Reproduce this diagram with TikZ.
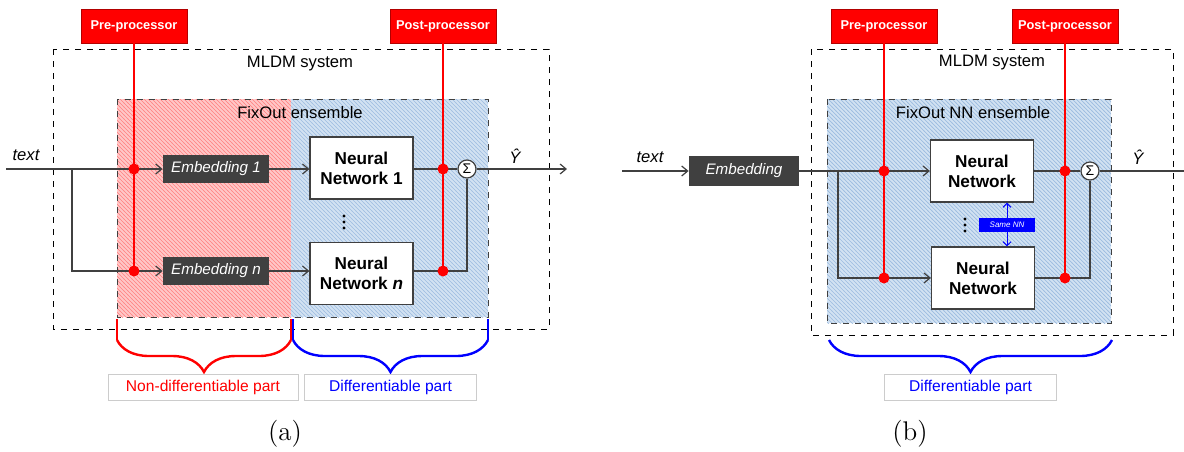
\documentclass[tikz,border=0pt]{standalone}
\usepackage{fontspec}
\setsansfont{Liberation Sans}
\usetikzlibrary{arrows.meta,patterns,decorations.pathreplacing}
\definecolor{linegray}{HTML}{404040}
\definecolor{hatchred}{HTML}{FFB4B4}
\definecolor{hatchblue}{HTML}{D2E2F2}
\definecolor{hatchbluedark}{HTML}{9DBCE0}
% fine diagonal hatching
\pgfdeclarepatternformonly{finehatch}{\pgfqpoint{-0.5pt}{-0.5pt}}{\pgfqpoint{2.5pt}{2.5pt}}{\pgfqpoint{2pt}{2pt}}{
  \pgfsetlinewidth{0.35pt}
  \pgfpathmoveto{\pgfqpoint{-0.1pt}{2.1pt}}
  \pgfpathlineto{\pgfqpoint{2.1pt}{-0.1pt}}
  \pgfusepath{stroke}}
\tikzset{
  wire/.style={draw=linegray, line width=0.6pt},
  flow/.style={wire, -{Straight Barb[length=3pt,width=5pt]}},
  redwire/.style={draw=red, line width=0.8pt},
  tap/.style={circle, fill=red, inner sep=0pt, minimum size=5.5pt},
  procbox/.style={fill=red, draw=red!70!black, line width=0.3pt, text=white, font=\sffamily\bfseries\fontsize{6.4}{7}\selectfont, minimum width=53pt, minimum height=17pt, inner sep=1pt},
  embbox/.style={fill=linegray, text=white, font=\sffamily\itshape\fontsize{7.6}{9}\selectfont, minimum width=53pt, minimum height=14pt, inner sep=1pt},
  nnbox/.style={fill=white, draw=linegray, line width=0.6pt, font=\sffamily\bfseries\fontsize{8.6}{10}\selectfont, align=center, minimum width=51.5pt, minimum height=31pt, inner sep=1pt},
  sumnode/.style={circle, draw=linegray, fill=white, line width=0.6pt, inner sep=0pt, minimum size=9pt, font=\sffamily\fontsize{7}{8}\selectfont},
  sysbox/.style={draw=black, dashed, line width=0.5pt},
  label/.style={font=\sffamily\fontsize{8.3}{10}\selectfont},
  ilabel/.style={font=\sffamily\itshape\fontsize{8.3}{10}\selectfont},
  samebox/.style={fill=blue, text=white, font=\sffamily\itshape\fontsize{4}{5}\selectfont, minimum width=28pt, minimum height=7pt, inner sep=0.5pt},
  partbox/.style={draw=black!20, fill=white, line width=0.5pt, font=\sffamily\fontsize{7.8}{9}\selectfont, minimum width=86pt, minimum height=13pt, inner sep=1pt},
  bracebar/.style={line width=1.2pt, decorate, decoration={brace, mirror, amplitude=16pt, raise=0pt}},
}
\begin{document}
\begin{tikzpicture}[x=0.5pt, y=-0.5pt]
  \useasboundingbox (0,0) rectangle (1184,451);

  % ---- (a) ----
  \draw [sysbox] (53,49) rectangle (549,329);
  \node [label] (sysa) at (300,64) {MLDM system};
  \fill [hatchred!75] (117,99) rectangle (291,317);
  \fill [pattern=finehatch, pattern color=red!50] (117,99) rectangle (291,317);
  \fill [hatchblue] (291,99) rectangle (488,317);
  \fill [pattern=finehatch, pattern color=hatchbluedark] (291,99) rectangle (488,317);
  \draw [dashed, draw=linegray, line width=0.5pt] (117,99) rectangle (488,317);
  \node [label] (ensa) at (300,113) {FixOut ensemble};

  \node [procbox] (prea) at (134,26) {Pre-processor};
  \node [procbox] (posta) at (443,26) {Post-processor};

  \node [embbox] (emba1) at (216,169) {Embedding 1};
  \node [embbox] (emban) at (216,271) {Embedding \textit{n}};
  \node [nnbox] (nna1) at (361.5,168) {Neural\\Network 1};
  \node [nnbox] (nnan) at (361.5,273.5) {Neural\\Network \textit{n}};
  \foreach \y in {216,222,228}
    \fill [black] (344,\y) circle (0.8pt);
  \node [sumnode] (suma) at (467,169) {Σ};

  \coordinate (ina) at (6,169);
  \coordinate (splita) at (72,169);
  \coordinate (downa) at (72,271);
  \coordinate (outa) at (567,169);
  \node [ilabel] (txta) at (26,155) {text};
  \node [ilabel] (yhata) at (515,156) {Ŷ};

  \draw [wire] (ina) -- (splita);
  \draw [flow] (splita) -- (emba1.west);
  \draw [flow] (splita) -- (downa) -- (emban.west);
  \draw [flow] (emba1.east) -- (nna1.west |- emba1.east);
  \draw [flow] (emban.east) -- (nnan.west |- emban.east);
  \draw [wire] (nna1.east |- suma) -- (suma.west);
  \draw [wire] (nnan.east |- emban) -- (suma |- emban) -- (suma.south);
  \draw [flow] (suma.east) -- (outa);

  \draw [redwire] (prea.south) -- (prea.south |- emban);
  \draw [redwire] (posta.south) -- (posta.south |- emban);
  \node [tap] (ta1) at (prea |- emba1) {};
  \node [tap] (tan) at (prea |- emban) {};
  \node [tap] (tb1) at (posta |- suma) {};
  \node [tap] (tbn) at (posta |- emban) {};

  \draw [red, line width=1.2pt] (117,319) -- (117,340);
  \draw [red, line width=1.2pt] (291,319) -- (291,340);
  \draw [red, bracebar] (117,340) -- (291,340);
  \draw [blue, line width=1.2pt] (293,319) -- (293,340);
  \draw [blue, line width=1.2pt] (488,319) -- (488,340);
  \draw [blue, bracebar] (293,340) -- (488,340);
  \node [partbox, text=red, minimum width=95pt] (nondiff) at (203,387) {Non-differentiable part};
  \node [partbox, text=blue] (diffa) at (390.5,387) {Differentiable part};
  \node [font=\rmfamily\fontsize{13.5}{15}\selectfont] (capa) at (285,434) {(a)};

  % ---- (b) ----
  \draw [sysbox] (811,49) rectangle (1173,335);
  \node [label] (sysb) at (992,63) {MLDM system};
  \fill [hatchblue] (827,99) rectangle (1111,323);
  \fill [pattern=finehatch, pattern color=hatchbluedark] (827,99) rectangle (1111,323);
  \draw [dashed, draw=linegray, line width=0.5pt] (827,99) rectangle (1111,323);
  \node [label] (ensb) at (973,113) {FixOut NN ensemble};

  \node [procbox] (preb) at (884,26) {Pre-processor};
  \node [procbox] (postb) at (1065,26) {Post-processor};

  \node [embbox, minimum width=55pt, minimum height=15pt] (embb) at (744,171) {Embedding};
  \node [nnbox] (nnb1) at (982,171) {Neural\\Network};
  \node [nnbox] (nnb2) at (983,278) {Neural\\Network};
  \foreach \y in {219,225,231}
    \fill [black] (965,\y) circle (0.8pt);
  \node [samebox] (same) at (1007,225) {Same NN};
  \node [sumnode] (sumb) at (1090,171) {Σ};

  \coordinate (inb) at (622,171);
  \coordinate (splitb) at (838,171);
  \coordinate (downb) at (838,278);
  \coordinate (outb) at (1184,171);
  \node [ilabel] (txtb) at (650,157) {text};
  \node [ilabel] (yhatb) at (1138,157) {Ŷ};

  \draw [flow] (inb) -- (embb.west);
  \draw [wire] (embb.east) -- (splitb);
  \draw [flow] (splitb) -- (nnb1.west);
  \draw [flow] (splitb) -- (downb) -- (nnb2.west |- downb);
  \draw [wire] (nnb1.east) -- (sumb.west);
  \draw [wire] (nnb2.east |- downb) -- (sumb |- downb) -- (sumb.south);
  \draw [wire] (sumb.east) -- (outb);
  \draw [blue, line width=0.5pt, -{Straight Barb[length=2pt,width=4pt]}] (same.north) -- (nnb1.south -| same);
  \draw [blue, line width=0.5pt, -{Straight Barb[length=2pt,width=4pt]}] (same.south) -- (nnb2.north -| same);

  \draw [redwire] (preb.south) -- (preb.south |- downb);
  \draw [redwire] (postb.south) -- (postb.south |- downb);
  \node [tap] (tc1) at (preb |- splitb) {};
  \node [tap] (tcn) at (preb |- downb) {};
  \node [tap] (td1) at (postb |- sumb) {};
  \node [tap] (tdn) at (postb |- downb) {};

  \draw [blue, bracebar] (829,340) -- (1112,340);
  \node [partbox, text=blue] (diffb) at (970.5,387) {Differentiable part};
  \node [font=\rmfamily\fontsize{13.5}{15}\selectfont] (capb) at (910,434) {(b)};
\end{tikzpicture}
\end{document}
